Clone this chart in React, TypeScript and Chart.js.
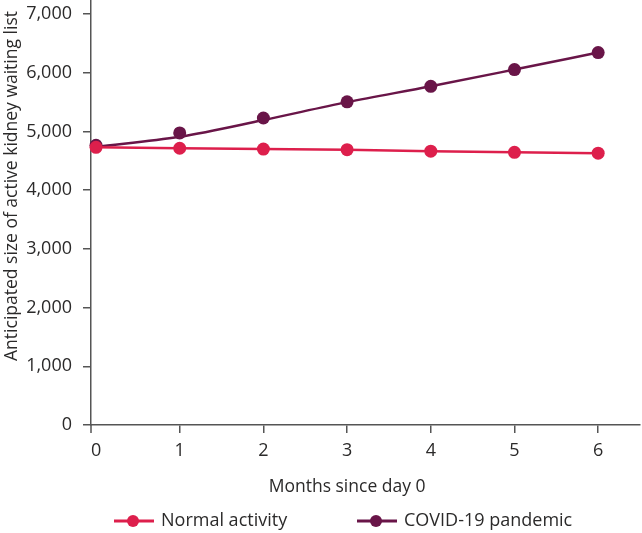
import React, { useEffect, useRef } from "react";
import { Chart, registerables } from "chart.js";

Chart.register(...registerables);

const months = [0, 1, 2, 3, 4, 5, 6];
const normalActivity = [4730, 4715, 4700, 4690, 4665, 4645, 4630];
const covidPoints = [4765, 4975, 5230, 5505, 5770, 6055, 6345];
const covidTrend = [4740, 4910, 5195, 5500, 5770, 6055, 6345];
const yTicks = [0, 1000, 2000, 3000, 4000, 5000, 6000, 7000];
const xTicks = [0, 1, 2, 3, 4, 5, 6];

const PINK = "#dd1f4c";
const PURPLE = "#691548";
const AXIS = "#555555";
const TEXT = "#2b2a2a";
const FONT = "'Open Sans', sans-serif";
const FS = 18;

export default function App() {
  const ref = useRef<HTMLCanvasElement | null>(null);

  useEffect(() => {
    document.body.style.margin = "0";
    const canvas = ref.current!;
    const decor = {
      id: "decor",
      afterDraw(chart: any) {
        const ctx = chart.ctx;
        const area = chart.chartArea;
        const xs = chart.scales.x;
        ctx.save();
        ctx.strokeStyle = AXIS;
        ctx.lineWidth = 1.5;
        ctx.beginPath();
        ctx.moveTo(area.left, area.bottom);
        ctx.lineTo(area.left, area.bottom + 8);
        ctx.stroke();
        ctx.fillStyle = TEXT;
        ctx.font = `17.5px ${FONT}`;
        ctx.textAlign = "center";
        ctx.textBaseline = "middle";
        ctx.save();
        ctx.translate(12, 186);
        ctx.rotate(-Math.PI / 2);
        ctx.fillText("Anticipated size of active kidney waiting list", 0, 0);
        ctx.restore();
        const cx = (xs.getPixelForValue(0) + xs.getPixelForValue(6)) / 2;
        ctx.fillText("Months since day 0", cx, 487);
        ctx.font = `18px ${FONT}`;
        const items = [
          { label: "Normal activity", color: PINK, x0: 114 },
          { label: "COVID-19 pandemic", color: PURPLE, x0: 357 },
        ];
        const ly = 521;
        items.forEach((it) => {
          ctx.strokeStyle = it.color;
          ctx.lineWidth = 3;
          ctx.beginPath();
          ctx.moveTo(it.x0, ly);
          ctx.lineTo(it.x0 + 40, ly);
          ctx.stroke();
          ctx.fillStyle = it.color;
          ctx.beginPath();
          ctx.arc(it.x0 + 19, ly, 6, 0, Math.PI * 2);
          ctx.fill();
          ctx.fillStyle = TEXT;
          ctx.textAlign = "left";
          ctx.fillText(it.label, it.x0 + 47, ly);
        });
        ctx.restore();
      },
    };

    const chart = new Chart(canvas, {
      type: "line",
      data: {
        datasets: [
          {
            label: "Normal activity",
            data: months.map((m, i) => ({ x: m, y: normalActivity[i] })),
            borderColor: PINK,
            backgroundColor: PINK,
            borderWidth: 2.5,
            pointRadius: 6.5,
            pointBorderWidth: 0,
            pointBackgroundColor: PINK,
            tension: 0,
            clip: false,
          },
          {
            label: "COVID-19 pandemic trend",
            data: months.map((m, i) => ({ x: m, y: covidTrend[i] })),
            borderColor: PURPLE,
            borderWidth: 2.5,
            pointRadius: 0,
            cubicInterpolationMode: "monotone",
            clip: false,
          },
          {
            label: "COVID-19 pandemic",
            data: months.map((m, i) => ({ x: m, y: covidPoints[i] })),
            showLine: false,
            borderColor: PURPLE,
            backgroundColor: PURPLE,
            pointRadius: 6.5,
            pointBorderWidth: 0,
            pointBackgroundColor: PURPLE,
            clip: false,
          },
        ],
      },
      options: {
        animation: false,
        responsive: false,
        maintainAspectRatio: false,
        layout: { autoPadding: false, padding: { top: 0, right: 2, left: 0, bottom: 0 } },
        plugins: {
          legend: { display: false },
          tooltip: { enabled: false },
        },
        scales: {
          x: {
            type: "linear",
            min: -0.06,
            max: 6.5,
            afterBuildTicks: (s: any) => {
              s.ticks = xTicks.map((v) => ({ value: v }));
            },
            afterFit: (s: any) => {
              s.height = 108;
              s.paddingLeft = 0;
              s.paddingRight = 0;
            },
            ticks: {
              font: { family: FONT, size: FS },
              color: TEXT,
              padding: 7,
              maxRotation: 0,
              callback: (v: any) => String(v),
            },
            grid: {
              drawOnChartArea: false,
              drawTicks: true,
              tickLength: 8,
              lineWidth: 1.5,
              color: (c: any) => (c.tick && c.tick.value === 0 ? "rgba(0,0,0,0)" : AXIS),
            },
            border: { color: AXIS, width: 1.5 },
          },
          y: {
            min: 0,
            max: 7240,
            afterBuildTicks: (s: any) => {
              s.ticks = yTicks.map((v) => ({ value: v }));
            },
            afterFit: (s: any) => {
              s.width = 91;
              s.paddingTop = 0;
              s.paddingBottom = 0;
            },
            ticks: {
              font: { family: FONT, size: FS },
              color: TEXT,
              padding: 11,
              callback: (v: any) => Number(v).toLocaleString("en-US"),
            },
            grid: {
              drawOnChartArea: false,
              drawTicks: true,
              tickLength: 8,
              lineWidth: 1.5,
              color: AXIS,
            },
            border: { color: AXIS, width: 1.5 },
          },
        },
      },
      plugins: [decor],
    } as any);
    return () => chart.destroy();
  }, []);

  return (
    <div style={{ width: 642, height: 533 }}>
      <canvas ref={ref} width={642} height={533} style={{ display: "block" }} />
    </div>
  );
}
